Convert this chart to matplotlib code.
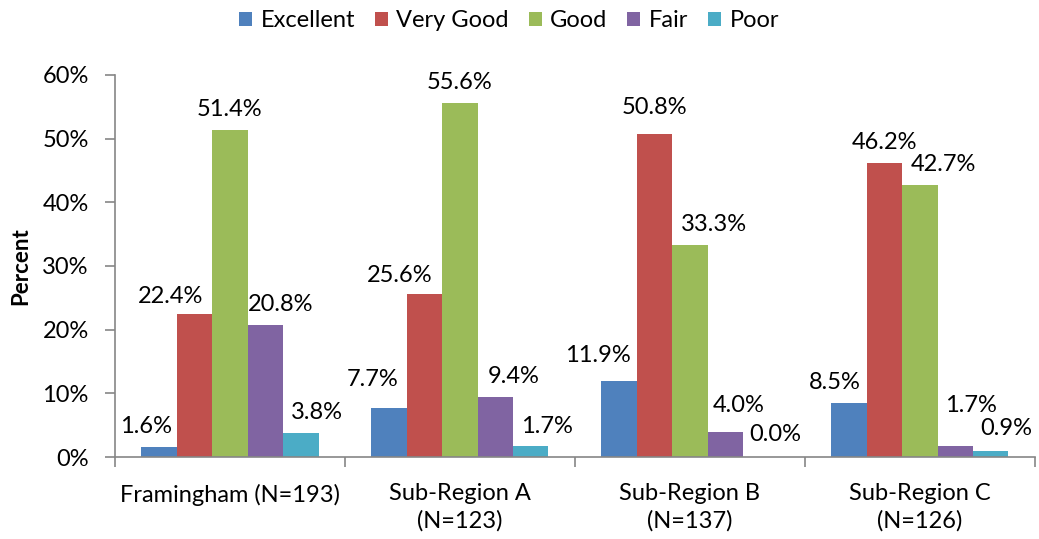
import numpy as np
import matplotlib
matplotlib.use("Agg")
import matplotlib.pyplot as plt
from matplotlib.ticker import FuncFormatter

# chart data
regions = ["Framingham (N=193)", "Sub-Region A\n(N=123)", "Sub-Region B\n(N=137)", "Sub-Region C\n(N=126)"]
ratings = ["Excellent", "Very Good", "Good", "Fair", "Poor"]
excellent = [1.6, 7.7, 11.9, 8.5]
very_good = [22.4, 25.6, 50.8, 46.2]
good = [51.4, 55.6, 33.3, 42.7]
fair = [20.8, 9.4, 4.0, 1.7]
poor = [3.8, 1.7, 0.0, 0.9]
y_ticks = [0, 10, 20, 30, 40, 50, 60]

series = [excellent, very_good, good, fair, poor]
colors = ["#4F81BD", "#C0504D", "#9BBB59", "#8064A2", "#4BACC6"]
# labels that were dragged by hand in the original: (series, region) -> (dx, dy) pixels
nudge = {
    (0, 0): (-13, 0), (1, 0): (-24, -2), (3, 0): (15, 0), (4, 0): (16, 0),
    (0, 1): (-17, 8), (1, 1): (-25, -2), (3, 1): (18, 0), (4, 1): (16, 0),
    (0, 2): (-21, 6), (1, 2): (0, 6), (2, 2): (24, 0), (3, 2): (13, 6), (4, 2): (15, 2),
    (0, 3): (-14, 0), (2, 3): (24, 0), (3, 3): (16, 21), (4, 3): (16, 3),
}

plt.rcParams['font.family'] = ['Lato', 'DejaVu Sans']
fs = 17
axis_grey = "#868686"
px = 72 / 100.0

fig = plt.figure(figsize=(10.39, 5.39), dpi=100)
ax = fig.add_axes([0.1107, 0.152, 0.8853, 0.709])

x = np.arange(len(regions))
w = 0.77 / len(series)

for i, (vals, name, col) in enumerate(zip(series, ratings, colors)):
    pos = x - 0.385 + w * (i + 0.5)
    bars = ax.bar(pos, vals, width=w, color=col, label=name)
    # value labels above each bar
    for j, (b, v) in enumerate(zip(bars, vals)):
        dx, dy = nudge.get((i, j), (0, 0))
        ax.annotate("%.1f%%" % v, (b.get_x() + b.get_width() / 2, v),
                    xytext=(dx * px, 7 + dy * px), textcoords="offset points",
                    ha="center", va="bottom", fontsize=fs, color="black")

ax.set_xlim(-0.5, len(regions) - 0.5)
ax.set_ylim(0, 60)
ax.set_yticks(y_ticks)
ax.yaxis.set_major_formatter(FuncFormatter(lambda v, _: "%d%%" % v))
ax.set_xticks(x)
ax.set_xticklabels(regions, fontsize=fs, linespacing=1.34)
ax.set_xticks(np.arange(-0.5, len(regions)), minor=True)
ax.tick_params(axis="x", which="major", length=0, pad=19)
ax.tick_params(axis="x", which="minor", length=7, width=1.2, color=axis_grey, direction="out")
ax.tick_params(axis="y", length=7, width=1.2, color=axis_grey, direction="out", labelsize=fs, pad=12)

for s in ["top", "right"]:
    ax.spines[s].set_visible(False)
for s in ["left", "bottom"]:
    ax.spines[s].set_color(axis_grey)
    ax.spines[s].set_linewidth(1.2)

ax.set_ylabel("Percent", fontsize=fs - 1, fontweight="bold", labelpad=8)

fig.legend(loc="center", bbox_to_anchor=(0.49, 0.962), ncol=5, frameon=False,
           fontsize=fs, handlelength=0.55, handleheight=0.55, handletextpad=0.35,
           columnspacing=0.85)

fig.savefig("out.png", dpi=100)
